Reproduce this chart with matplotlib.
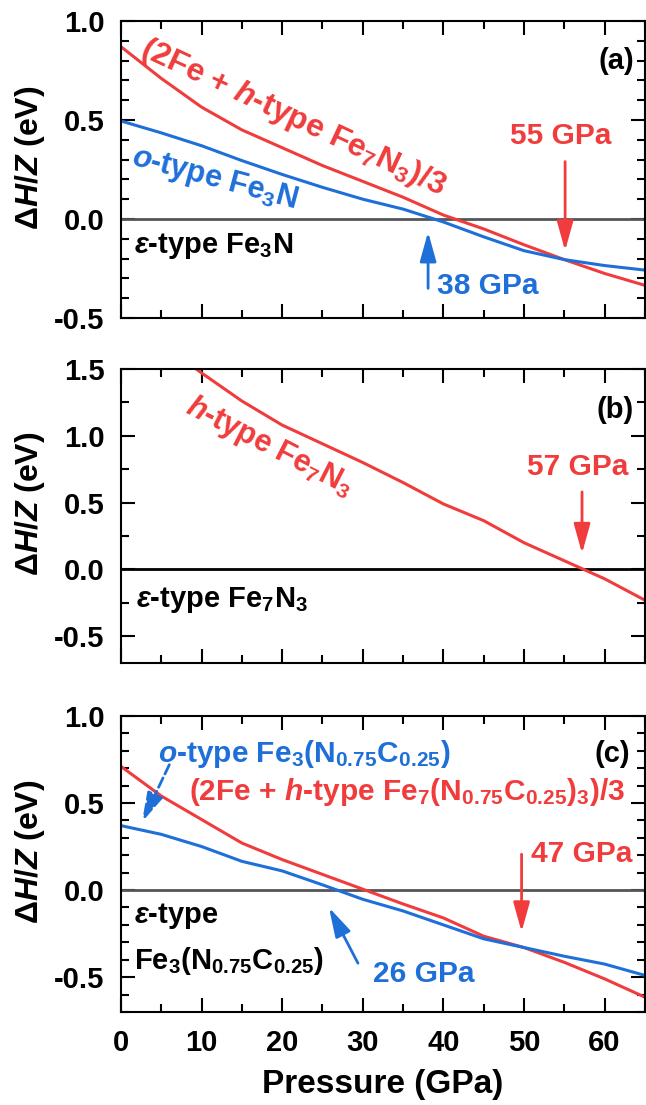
import matplotlib.pyplot as plt
from matplotlib.ticker import MultipleLocator

plt.rcParams['font.family'] = ['Liberation Sans', 'DejaVu Sans']
plt.rcParams['font.weight'] = 'bold'
plt.rcParams['axes.labelweight'] = 'bold'
plt.rcParams['axes.unicode_minus'] = False
plt.rcParams['mathtext.fontset'] = 'custom'
plt.rcParams['mathtext.rm'] = 'Liberation Sans:bold'
plt.rcParams['mathtext.it'] = 'Liberation Sans:italic:bold'
plt.rcParams['mathtext.bf'] = 'Liberation Sans:bold'

RED = '#f03c3c'
BLUE = '#1f6fd9'

# pressure grid (GPa)
pressure = [0, 5, 10, 15, 20, 25, 30, 35, 40, 45, 50, 55, 60, 65]

# (a) Fe3N
red_a = [0.87, 0.71, 0.565, 0.45, 0.36, 0.27, 0.19, 0.11, 0.02, -0.05, -0.13, -0.205, -0.275, -0.335]
blue_a = [0.495, 0.435, 0.37, 0.295, 0.225, 0.16, 0.10, 0.05, -0.015, -0.09, -0.16, -0.205, -0.235, -0.258]

# (b) Fe7N3
pressure_b = [5, 10, 15, 20, 25, 30, 35, 40, 45, 50, 55, 60, 65]
red_b = [1.69, 1.47, 1.26, 1.08, 0.94, 0.80, 0.65, 0.49, 0.365, 0.20, 0.065, -0.07, -0.23]

# (c) Fe3(N0.75C0.25)
red_c = [0.71, 0.54, 0.405, 0.27, 0.175, 0.09, 0.005, -0.08, -0.16, -0.265, -0.33, -0.415, -0.51, -0.615]
blue_c = [0.37, 0.32, 0.25, 0.165, 0.11, 0.03, -0.053, -0.12, -0.2, -0.28, -0.33, -0.38, -0.425, -0.49]

panel_ylims = [(-0.5, 1.0), (-0.7, 1.5), (-0.7, 1.0)]
panel_minor = [0.1, 0.25, 0.1]
panel_boxes = [
    [0.1873, 0.7122, 0.811, 0.2688],
    [0.1873, 0.4000, 0.811, 0.2661],
    [0.1873, 0.0842, 0.811, 0.2679],
]


def arrow(ax, start, end, color, ls='-'):
    ax.annotate('', xy=end, xytext=start,
                arrowprops=dict(arrowstyle='-|>,head_length=0.9,head_width=0.25',
                                color=color, lw=2, linestyle=ls,
                                shrinkA=0, shrinkB=0, mutation_scale=20))


fig = plt.figure(figsize=(6.46, 11.05), dpi=100)
axes = []
for i, box in enumerate(panel_boxes):
    ax = fig.add_axes(box)
    ax.set_xlim(0, 65)
    ax.set_ylim(*panel_ylims[i])
    ax.xaxis.set_major_locator(MultipleLocator(10))
    ax.xaxis.set_minor_locator(MultipleLocator(5))
    ax.yaxis.set_major_locator(MultipleLocator(0.5))
    ax.yaxis.set_minor_locator(MultipleLocator(panel_minor[i]))
    ax.yaxis.set_major_formatter(lambda v, p: f'{v:.1f}')
    ax.tick_params(which='both', direction='in', top=True, right=True, width=1.5)
    ax.tick_params(which='major', length=10, labelsize=21, pad=12)
    ax.tick_params(which='minor', length=6)
    for s in ax.spines.values():
        s.set_linewidth(1.5)
    ax.set_ylabel(r'$\Delta H/Z$ (eV)', fontsize=23)
    ax.yaxis.set_label_coords(-0.142, 0.54)
    if i < 2:
        ax.tick_params(labelbottom=False)
    axes.append(ax)

ax_a, ax_b, ax_c = axes

# ---- panel (a)
ax_a.axhline(0, color='#555555', lw=2)
ax_a.plot(pressure, red_a, color=RED, lw=2.2)
ax_a.plot(pressure, blue_a, color=BLUE, lw=2.2)
ax_a.text(21.4, 0.51, r'(2Fe + $h$-type Fe$_7$N$_3$)/3', color=RED, fontsize=23,
          rotation=-25, ha='center', va='center', rotation_mode='anchor')
ax_a.text(11.6, 0.20, r'$o$-type Fe$_3$N', color=BLUE, fontsize=22,
          rotation=-15, ha='center', va='center', rotation_mode='anchor')
ax_a.text(1.6, -0.135, r'$\varepsilon$-type Fe$_3$N', color='black', fontsize=21,
          ha='left', va='center')
ax_a.text(54.5, 0.42, '55 GPa', color=RED, fontsize=21.5, ha='center', va='center')
arrow(ax_a, (55.1, 0.29), (55.1, -0.16), RED)
ax_a.text(45.5, -0.34, '38 GPa', color=BLUE, fontsize=21.5, ha='center', va='center')
arrow(ax_a, (38.1, -0.35), (38.1, -0.065), BLUE)
ax_a.text(61.5, 0.80, '(a)', fontsize=21, ha='center', va='center')

# ---- panel (b)
ax_b.axhline(0, color='black', lw=2)
ax_b.plot(pressure_b, red_b, color=RED, lw=2.2)
ax_b.text(18.5, 0.92, r'$h$-type Fe$_7$N$_3$', color=RED, fontsize=22,
          rotation=-27, ha='center', va='center', rotation_mode='anchor')
ax_b.text(1.9, -0.23, r'$\varepsilon$-type Fe$_7$N$_3$', color='black', fontsize=21,
          ha='left', va='center')
ax_b.text(56.7, 0.77, '57 GPa', color=RED, fontsize=21.5, ha='center', va='center')
arrow(ax_b, (57.2, 0.58), (57.2, 0.12), RED)
ax_b.text(61.3, 1.195, '(b)', fontsize=21, ha='center', va='center')

# ---- panel (c)
ax_c.axhline(0, color='#555555', lw=2)
ax_c.plot(pressure, red_c, color=RED, lw=2.2)
ax_c.plot(pressure, blue_c, color=BLUE, lw=2.2)
ax_c.text(4.6, 0.78, r'$o$-type Fe$_3$(N$_{0.75}$C$_{0.25}$)', color=BLUE, fontsize=21.5,
          ha='left', va='center')
arrow(ax_c, (6.0, 0.72), (2.6, 0.39), BLUE, ls='--')
ax_c.text(8.4, 0.565, r'(2Fe + $h$-type Fe$_7$(N$_{0.75}$C$_{0.25}$)$_3$)/3', color=RED,
          fontsize=21.5, ha='left', va='center')
ax_c.text(57.2, 0.206, '47 GPa', color=RED, fontsize=21.5, ha='center', va='center')
arrow(ax_c, (49.7, 0.206), (49.7, -0.24), RED)
ax_c.text(1.6, -0.15, r'$\varepsilon$-type', color='black', fontsize=21, ha='left', va='center')
ax_c.text(1.6, -0.41, r'Fe$_3$(N$_{0.75}$C$_{0.25}$)', color='black', fontsize=21,
          ha='left', va='center')
ax_c.text(37.6, -0.48, '26 GPa', color=BLUE, fontsize=21.5, ha='center', va='center')
arrow(ax_c, (29.4, -0.42), (25.8, -0.10), BLUE)
ax_c.text(61.0, 0.78, '(c)', fontsize=21, ha='center', va='center')
ax_c.set_xlabel('Pressure (GPa)', fontsize=24, labelpad=9)

fig.savefig('out.png', dpi=100)
